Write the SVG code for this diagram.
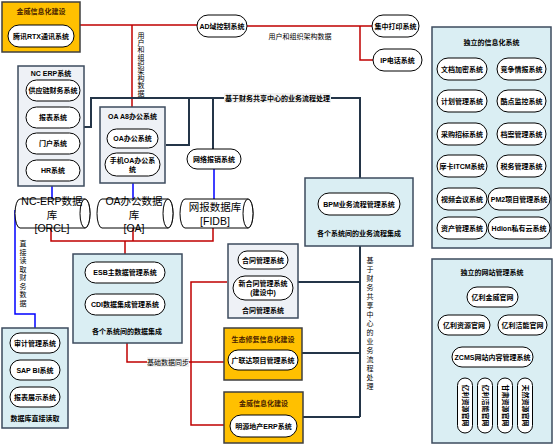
<svg xmlns="http://www.w3.org/2000/svg" width="554" height="446" viewBox="0 0 554 446">
<style>
text{font-family:"Liberation Sans","Noto Sans CJK SC",sans-serif;font-size:7px;fill:#000;text-anchor:middle;font-weight:bold}
.pill{fill:#fff;stroke:#000;stroke-width:1}
.org{fill:#ffc000;stroke:#3f3f3f;stroke-width:1.5}
.ttl{fill:#4a1e00}
.blu{fill:#daeef3;stroke:#3d4b5e;stroke-width:1.5}
.gry{fill:#eef1f6;stroke:#3d4b5e;stroke-width:1.5}
.red{fill:none;stroke:#c00000;stroke-width:1.5}
.nav{fill:none;stroke:#243548;stroke-width:2}
.bl{fill:none;stroke:#0000ff;stroke-width:1.5}
.cyl{fill:#fff;stroke:#000;stroke-width:1}
.big{font-size:10.5px;font-weight:normal}
.lbl{fill:#f2f2f2}
</style>
<g id="connectors">
<path class="red" d="M80,25 H197 M247,26 H360 V60 H373 M360,26 H372"/>
<path class="red" d="M132,25 V107"/>
<path class="red" d="M51,228 V241 H213 V228 M133,228 V241 M125,241 V254"/>
<path class="red" d="M127,343 V362 H228 M227,282 H191 V425 H230"/>
<path class="nav" d="M84,127 H91 V98 H360 V178 M166,145 H189 V98 M213,98 V149"/>
<path class="nav" d="M360,246 V417 M298,282 H360 M302,353 H360 M303,417 H360"/>
<path class="bl" d="M52,181 V199 M133,176 V199 M214,169 V200 M15,210 V314 H35 V328"/>
<path fill="none" stroke="#000" stroke-width="1" d="M492,367 V373 M465,373 H525 M465,373 V378 M485,373 V378 M505,373 V378 M525,373 V378"/>
<rect class="lbl" x="224" y="93" width="107" height="10"/>
<text x="277.5" y="100.5">基于财务共享中心的业务流程处理</text>
<text x="300" y="39" style="font-weight:normal">用户和组织架构数据</text>
<text x="141" style="font-weight:normal"><tspan x="141" y="38">用</tspan><tspan x="141" y="45.2">户</tspan><tspan x="141" y="52.4">和</tspan><tspan x="141" y="59.6">组</tspan><tspan x="141" y="66.8">织</tspan><tspan x="141" y="74">架</tspan><tspan x="141" y="81.2">构</tspan><tspan x="141" y="88.4">数</tspan><tspan x="141" y="95.6">据</tspan></text>
<text style="font-weight:normal"><tspan x="23" y="246">直</tspan><tspan x="23" y="254.5">接</tspan><tspan x="23" y="263">读</tspan><tspan x="23" y="271.5">取</tspan><tspan x="23" y="280">财</tspan><tspan x="23" y="288.5">务</tspan><tspan x="23" y="297">数</tspan><tspan x="23" y="305.5">据</tspan></text>
<rect class="lbl" x="147" y="357" width="42" height="10"/>
<text x="168" y="364.5" style="font-weight:normal">基础数据同步</text>
<text style="font-weight:normal"><tspan x="370" y="263">基</tspan><tspan x="370" y="272">于</tspan><tspan x="370" y="281">财</tspan><tspan x="370" y="290">务</tspan><tspan x="370" y="299">共</tspan><tspan x="370" y="308">享</tspan><tspan x="370" y="317">中</tspan><tspan x="370" y="326">心</tspan><tspan x="370" y="335">的</tspan><tspan x="370" y="344">业</tspan><tspan x="370" y="353">务</tspan><tspan x="370" y="362">流</tspan><tspan x="370" y="371">程</tspan><tspan x="370" y="380">处</tspan><tspan x="370" y="389">理</tspan></text>
</g>
<g id="jinwei-top">
<rect class="org" x="2" y="2" width="78" height="50"/>
<text class="ttl" x="41" y="14">金威信息化建设</text>
<rect class="pill" x="8" y="25" width="66" height="22" rx="11"/>
<text x="41" y="38.5">腾讯RTX通讯系统</text>
</g>
<g id="ad">
<rect class="pill" x="197" y="15" width="50" height="22" rx="11"/>
<text x="222" y="28.5">AD域控制系统</text>
</g>
<g id="print">
<rect class="pill" x="372" y="15" width="47" height="22" rx="11"/>
<text x="395.5" y="28.5">集中打印系统</text>
</g>
<g id="ip">
<rect class="pill" x="373" y="49" width="49" height="22" rx="11"/>
<text x="397.5" y="62.5">IP电话系统</text>
</g>
<g id="nc-erp">
<rect class="gry" x="18" y="66" width="66" height="120"/>
<text x="51" y="76">NC ERP系统</text>
<rect class="pill" x="26" y="80" width="54" height="21" rx="10.5"/>
<text x="53" y="93">供应链财务系统</text>
<rect class="pill" x="26" y="107" width="54" height="21" rx="10.5"/>
<text x="53" y="120">报表系统</text>
<rect class="pill" x="26" y="133" width="54" height="21" rx="10.5"/>
<text x="53" y="146">门户系统</text>
<rect class="pill" x="26" y="160" width="54" height="21" rx="10.5"/>
<text x="53" y="173">HR系统</text>
</g>
<g id="oa">
<rect class="gry" x="100" y="107" width="65" height="76"/>
<text x="132.5" y="119">OA A8办公系统</text>
<rect class="pill" x="107" y="129" width="51" height="19" rx="9.5"/>
<text x="132.5" y="141">OA办公系统</text>
<rect class="pill" x="105" y="153" width="55" height="23" rx="11.5"/>
<text x="132.5" y="163">手机OA办公系</text>
<text x="132.5" y="172">统</text>
</g>
<g id="fee">
<rect class="pill" x="187" y="149" width="54" height="20" rx="10"/>
<text x="214" y="161.5">网络报销系统</text>
</g>
<g id="db-nc">
<path class="cyl" d="M20,199 H85 A5,14.5 0 0 1 85,228 H20 A5,14.5 0 0 1 20,199 Z"/>
<ellipse class="cyl" cx="85" cy="213.5" rx="5" ry="14.5"/>
<text class="big" x="52" y="205">NC-ERP数据</text>
<text class="big" x="52" y="218.5">库</text>
<text class="big" x="52" y="232">[ORCL]</text>
</g>
<g id="db-oa">
<path class="cyl" d="M102,199 H168 A5,14.5 0 0 1 168,228 H102 A5,14.5 0 0 1 102,199 Z"/>
<ellipse class="cyl" cx="168" cy="213.5" rx="5" ry="14.5"/>
<text class="big" x="134" y="205">OA办公数据</text>
<text class="big" x="134" y="218.5">库</text>
<text class="big" x="134" y="232">[OA]</text>
</g>
<g id="db-fidb">
<path class="cyl" d="M185,199 H248 A5,14.5 0 0 1 248,228 H185 A5,14.5 0 0 1 185,199 Z"/>
<ellipse class="cyl" cx="248" cy="213.5" rx="5" ry="14.5"/>
<text class="big" x="215" y="211">网报数据库</text>
<text class="big" x="215" y="224.5">[FIDB]</text>
</g>
<g id="esb">
<rect class="blu" x="73" y="254" width="109" height="89"/>
<rect class="pill" x="85" y="262" width="80" height="21" rx="10.5"/>
<text x="125" y="275">ESB主数据管理系统</text>
<rect class="pill" x="85" y="294" width="80" height="21" rx="10.5"/>
<text x="125" y="307">CDI数据集成管理系统</text>
<text x="127" y="334">各个系统间的数据集成</text>
</g>
<g id="contract">
<rect class="gry" x="228" y="244" width="70" height="74"/>
<rect class="pill" x="238" y="251" width="50" height="18" rx="9"/>
<text x="263" y="262.5">合同管理系统</text>
<rect class="pill" x="233" y="276" width="60" height="24" rx="12"/>
<text x="263" y="286">新合同管理系统</text>
<text x="263" y="295">(建设中)</text>
<text x="263" y="312.5">合同管理系统</text>
</g>
<g id="bpm">
<rect class="blu" x="305" y="178" width="108" height="68"/>
<rect class="pill" x="318" y="193" width="82" height="22" rx="11"/>
<text x="359" y="206.5">BPM业务流程管理系统</text>
<text x="359" y="235.5">各个系统间的业务流程集成</text>
</g>
<g id="audit">
<rect class="blu" x="2" y="328" width="66" height="100"/>
<rect class="pill" x="10" y="333" width="50" height="20" rx="10"/>
<text x="35" y="345.5">审计管理系统</text>
<rect class="pill" x="10" y="360" width="50" height="20" rx="10"/>
<text x="35" y="372.5">SAP BI系统</text>
<rect class="pill" x="10" y="387" width="50" height="20" rx="10"/>
<text x="35" y="399.5">报表展示系统</text>
<text x="35" y="421">数据库直接读取</text>
</g>
<g id="eco">
<rect class="org" x="224" y="328" width="78" height="52"/>
<text class="ttl" x="263" y="342">生态修复信息化建设</text>
<rect class="pill" x="228" y="350" width="70" height="20" rx="10"/>
<text x="263" y="362.5">广联达项目管理系统</text>
</g>
<g id="jinwei-bottom">
<rect class="org" x="224" y="392" width="79" height="51"/>
<text class="ttl" x="263.5" y="406">金威信息化建设</text>
<rect class="pill" x="230" y="415" width="67" height="22" rx="11"/>
<text x="263.5" y="428.5">明源地产ERP系统</text>
</g>
<g id="independent">
<rect class="blu" x="432" y="27" width="119" height="221"/>
<text x="491.5" y="44.5">独立的信息化系统</text>
<rect class="pill" x="437" y="58" width="50" height="22" rx="11"/><text x="462" y="71.5">文档加密系统</text>
<rect class="pill" x="497" y="58" width="49" height="22" rx="11"/><text x="521.5" y="71.5">竞争情报系统</text>
<rect class="pill" x="437" y="90" width="50" height="22" rx="11"/><text x="462" y="103.5">计划管理系统</text>
<rect class="pill" x="497" y="90" width="49" height="22" rx="11"/><text x="521.5" y="103.5">酷点监控系统</text>
<rect class="pill" x="437" y="123" width="50" height="22" rx="11"/><text x="462" y="136.5">采购招标系统</text>
<rect class="pill" x="497" y="123" width="49" height="22" rx="11"/><text x="521.5" y="136.5">档案管理系统</text>
<rect class="pill" x="437" y="155" width="50" height="22" rx="11"/><text x="462" y="168.5">摩卡ITCM系统</text>
<rect class="pill" x="497" y="155" width="49" height="22" rx="11"/><text x="521.5" y="168.5">税务管理系统</text>
<rect class="pill" x="437" y="188" width="50" height="22" rx="11"/><text x="462" y="201.5">视频会议系统</text>
<rect class="pill" x="488" y="188" width="62" height="22" rx="11"/><text x="519" y="201.5">PM2项目管理系统</text>
<rect class="pill" x="437" y="217" width="50" height="22" rx="11"/><text x="462" y="230.5">资产管理系统</text>
<rect class="pill" x="488" y="217" width="62" height="22" rx="11"/><text x="519" y="230.5">Hdion私有云系统</text>
</g>
<g id="websites">
<rect class="blu" x="432" y="259" width="120" height="184"/>
<text x="492" y="274.5">独立的网站管理系统</text>
<rect class="pill" x="467" y="287" width="51" height="20" rx="10"/><text x="492.5" y="299.5">亿利金威官网</text>
<rect class="pill" x="438" y="315" width="52" height="20" rx="10"/><text x="464" y="327.5">亿利资源官网</text>
<rect class="pill" x="498" y="315" width="49" height="20" rx="10"/><text x="522.5" y="327.5">亿利洁能官网</text>
<rect class="pill" x="452" y="347" width="81" height="20" rx="10"/><text x="492.5" y="359.5">ZCMS网站内容管理系统</text>
<rect class="pill" x="457.5" y="378" width="15" height="55" rx="7.5"/><text transform="translate(465,405.5) rotate(90)" y="2.5">亿利资源官网</text>
<rect class="pill" x="477.5" y="378" width="15" height="55" rx="7.5"/><text transform="translate(485,405.5) rotate(90)" y="2.5">亿利洁能官网</text>
<rect class="pill" x="497.5" y="378" width="15" height="55" rx="7.5"/><text transform="translate(505,405.5) rotate(90)" y="2.5">甘肃资源官网</text>
<rect class="pill" x="517.5" y="378" width="15" height="55" rx="7.5"/><text transform="translate(525,405.5) rotate(90)" y="2.5">天然资源官网</text>
</g>
</svg>
